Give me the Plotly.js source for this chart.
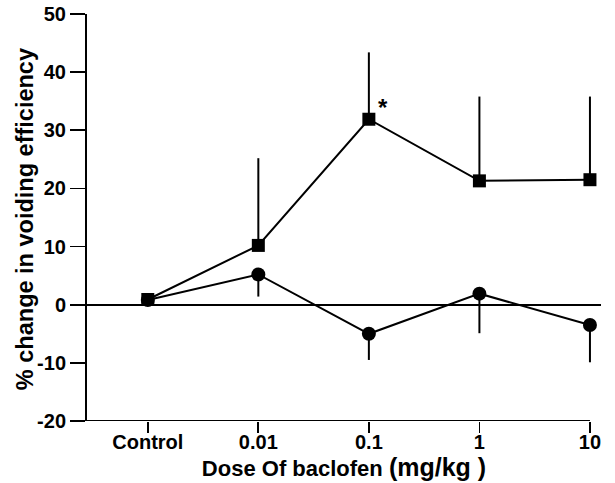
<!DOCTYPE html>
<html>
<head>
<meta charset="utf-8">
<script src="https://cdn.plot.ly/plotly-3.0.1.min.js"></script>
<style>
  html, body { margin: 0; padding: 0; background: #fff; }
  #chart { width: 615px; height: 483px; }
</style>
</head>
<body>
<div id="chart"></div>
<script>
// Dose categories (x positions are category indices)
const doseLabels = ['Control', '0.01', '0.1', '1', '10'];
const doseIndex = [0, 1, 2, 3, 4];

// Y ticks, labelled with a plain hyphen for negatives
const yTickVals = [-20, -10, 0, 10, 20, 30, 40, 50];
const yTickText = ['-20', '-10', '0', '10', '20', '30', '40', '50'];

// Square series: mean % change and upward error (SEM)
const squareMean = [0.9, 10.2, 31.9, 21.3, 21.5];
const squareErrUp = [0, 15.0, 11.5, 14.5, 14.3];

// Circle series: mean % change and downward error (SEM)
const circleMean = [0.8, 5.2, -5.0, 1.9, -3.5];
const circleErrDown = [0, 3.8, 4.5, 6.8, 6.4];

// Significance marker
const sigIndex = 2;
const sigText = '*';

const yTitle = '% change in voiding efficiency';
const xTitle = 'Dose Of baclofen <span style="font-size:25px">(mg/kg )</span>';

const font = { family: 'Liberation Sans, Arial, sans-serif', color: '#000' };

const traces = [
  {
    x: doseIndex,
    y: circleMean,
    type: 'scatter',
    mode: 'lines+markers',
    line: { color: '#000', width: 2 },
    marker: { symbol: 'circle', size: 14, color: '#000' },
    error_y: {
      type: 'data', symmetric: false,
      array: doseIndex.map(() => 0),
      arrayminus: circleErrDown,
      width: 0, thickness: 2, color: '#000'
    },
    cliponaxis: false,
    showlegend: false,
    hoverinfo: 'x+y'
  },
  {
    x: doseIndex,
    y: squareMean,
    type: 'scatter',
    mode: 'lines+markers',
    line: { color: '#000', width: 2 },
    marker: { symbol: 'square', size: 13, color: '#000' },
    error_y: {
      type: 'data', symmetric: false,
      array: squareErrUp,
      arrayminus: doseIndex.map(() => 0),
      width: 0, thickness: 2, color: '#000'
    },
    cliponaxis: false,
    showlegend: false,
    hoverinfo: 'x+y'
  }
];

const layout = {
  width: 615,
  height: 483,
  margin: { l: 87, r: 14, t: 14, b: 62 },
  paper_bgcolor: '#fff',
  plot_bgcolor: '#fff',
  font: font,
  showlegend: false,
  xaxis: {
    range: [-0.55, 4.1],
    tickvals: doseIndex,
    ticktext: doseLabels,
    ticks: 'outside',
    ticklen: 11,
    tickwidth: 1.8,
    tickcolor: '#000',
    ticklabelstandoff: -8,
    showline: false,
    showgrid: false,
    zeroline: false,
    tickfont: { family: font.family, size: 20, weight: 'bold', color: '#000' },
    title: {
      text: xTitle,
      font: { family: font.family, size: 22, weight: 'bold', color: '#000' },
      standoff: 2
    },
    fixedrange: true
  },
  yaxis: {
    range: [-20, 50],
    tickvals: yTickVals,
    ticktext: yTickText,
    ticks: 'outside',
    ticklen: 15,
    tickwidth: 1.8,
    tickcolor: '#000',
    showline: true,
    linecolor: '#000',
    linewidth: 2,
    showgrid: false,
    zeroline: true,
    zerolinecolor: '#000',
    zerolinewidth: 1.6,
    tickfont: { family: font.family, size: 20, weight: 'bold', color: '#000' },
    fixedrange: true
  },
  shapes: [
    // bottom axis line, ending at the last dose tick
    {
      type: 'line', xref: 'x', yref: 'y',
      x0: -0.55, x1: 4, y0: -20, y1: -20,
      line: { color: '#000', width: 2 }
    }
  ],
  annotations: [
    // vertical y-axis title
    {
      xref: 'paper', yref: 'paper',
      x: -0.1206, y: 0.496,
      xanchor: 'center', yanchor: 'middle',
      textangle: -90,
      text: yTitle,
      showarrow: false,
      font: { family: font.family, size: 23.5, weight: 'bold', color: '#000' }
    },
    {
      x: sigIndex, y: squareMean[sigIndex],
      xref: 'x', yref: 'y',
      text: sigText,
      showarrow: false,
      xshift: 14, yshift: 12,
      font: { family: font.family, size: 24, weight: 'bold', color: '#000' }
    }
  ]
};

Plotly.newPlot('chart', traces, layout, { displayModeBar: false, staticPlot: true });
</script>
</body>
</html>
